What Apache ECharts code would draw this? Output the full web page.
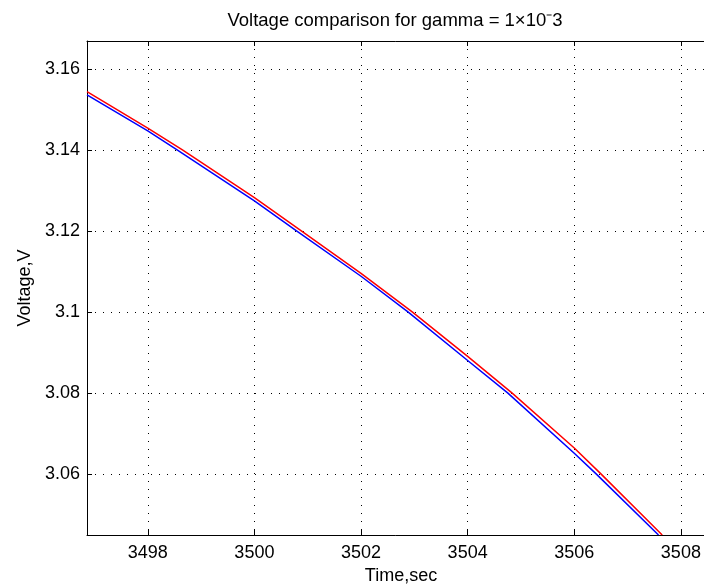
<!DOCTYPE html>
<html>
<head>
<meta charset="utf-8">
<title>Voltage comparison</title>
<script src="https://cdn.jsdelivr.net/npm/echarts@6/dist/echarts.min.js"></script>
<style>
  html, body { margin: 0; padding: 0; background: #fff; overflow: hidden; }
  #chart { width: 704px; height: 588px; }
</style>
</head>
<body>
<div id="chart"></div>
<script>
// values
const timeRed = [3496.86, 3498.0, 3498.65, 3500.0, 3500.88, 3502.0, 3502.96, 3504.0, 3504.83, 3506.0, 3506.5, 3507.65];
const voltRed = [3.1544, 3.1454, 3.14, 3.1282, 3.12, 3.1095, 3.10, 3.0890, 3.08, 3.0664, 3.06, 3.0449];
const timeBlue = [3496.86, 3498.0, 3498.55, 3500.0, 3500.79, 3502.0, 3502.88, 3504.0, 3504.75, 3506.0, 3506.41, 3507.58];
const voltBlue = [3.1536, 3.1447, 3.14, 3.1274, 3.12, 3.1088, 3.10, 3.0880, 3.08, 3.0651, 3.06, 3.0449];

const xRange = [3496.86, 3508.64];
const yRange = [3.0449, 3.1669];

const font = "'Liberation Sans', Arial, Helvetica, sans-serif";

const zip = (xs, ys) => xs.map((x, i) => [x, ys[i]]);

const chart = echarts.init(document.getElementById("chart"), null, { renderer: "canvas" });

const gridLine = {
  show: true,
  showMinLine: false,
  showMaxLine: false,
  lineStyle: { color: "#000", width: 1, type: [1, 7] },
};

chart.setOption({
  animation: false,
  backgroundColor: "#fff",
  textStyle: { fontFamily: font },
  // title centred over the (partly off-screen) plot box
  graphic: [
    {
      type: "text",
      x: 395,
      y: 11,
      style: {
        text: "Voltage comparison for gamma = 1×10⁻3",
        font: "18.5px " + font,
        fill: "#000",
        align: "center",
        verticalAlign: "top",
      },
    },
  ],
  // plot box runs past the right edge of the window, like the reference
  grid: { left: 87, top: 41, width: 628, bottom: 53, outerBoundsMode: "none", containLabel: false },
  xAxis: [
    {
      type: "value",
      min: xRange[0],
      max: xRange[1],
      name: "Time,sec",
      nameLocation: "middle",
      nameGap: 31,
      nameTextStyle: { fontFamily: font, fontSize: 18, color: "#000" },
      axisLine: { show: true, onZero: false, lineStyle: { color: "#000", width: 1 } },
      axisTick: { show: true, inside: true, length: 5, lineStyle: { color: "#000" } },
      axisLabel: {
        fontFamily: font,
        fontSize: 18,
        color: "#000",
        margin: 9,
        showMinLabel: false,
        showMaxLabel: false,
        formatter: (v) => String(Math.round(v)),
      },
      splitLine: gridLine,
    },
    {
      // top border with inward ticks
      type: "value",
      position: "top",
      min: xRange[0],
      max: xRange[1],
      axisLine: { show: true, onZero: false, lineStyle: { color: "#000", width: 1 } },
      axisTick: { show: true, inside: true, length: 5, lineStyle: { color: "#000" } },
      axisLabel: { show: false },
      splitLine: { show: false },
    },
  ],
  yAxis: {
    type: "value",
    min: yRange[0],
    max: yRange[1],
    name: "Voltage,V",
    nameLocation: "middle",
    nameGap: 53,
    nameTextStyle: { fontFamily: font, fontSize: 18, color: "#000" },
    axisLine: { show: true, onZero: false, lineStyle: { color: "#000", width: 1 } },
    axisTick: { show: true, inside: true, length: 5, lineStyle: { color: "#000" } },
    axisLabel: {
      fontFamily: font,
      fontSize: 18,
      color: "#000",
      margin: 7,
      showMinLabel: false,
      showMaxLabel: false,
      formatter: (v) => String(+v.toFixed(3)),
    },
    splitLine: gridLine,
  },
  series: [
    {
      name: "blue",
      type: "line",
      data: zip(timeBlue, voltBlue),
      showSymbol: false,
      smooth: false,
      lineStyle: { color: "#0000ff", width: 1.5 },
    },
    {
      name: "red",
      type: "line",
      data: zip(timeRed, voltRed),
      showSymbol: false,
      smooth: false,
      lineStyle: { color: "#ff0000", width: 1.5 },
    },
  ],
});
</script>
</body>
</html>
